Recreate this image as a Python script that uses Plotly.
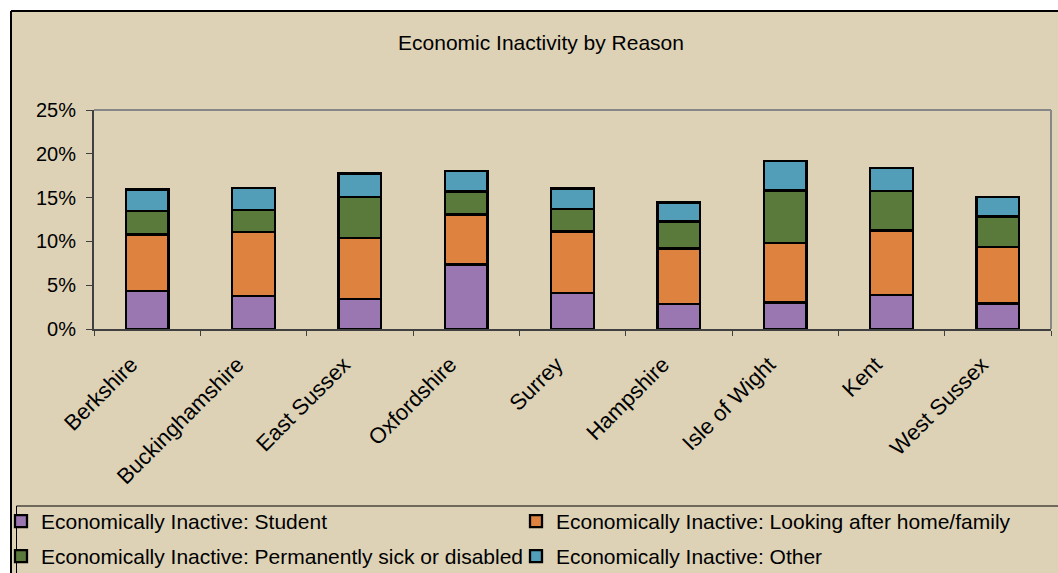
import plotly.graph_objects as go

counties = ["Berkshire", "Buckinghamshire", "East Sussex", "Oxfordshire", "Surrey",
            "Hampshire", "Isle of Wight", "Kent", "West Sussex"]
student = [4.34, 3.77, 3.39, 7.36, 4.12, 2.82, 3.01, 3.85, 2.90]
home = [6.44, 7.28, 7.01, 5.71, 7.01, 6.36, 6.82, 7.39, 6.48]
sick = [2.71, 2.55, 4.69, 2.63, 2.55, 3.09, 5.99, 4.50, 3.46]
other = [2.44, 2.52, 2.67, 2.33, 2.36, 2.17, 3.39, 2.67, 2.21]
series_names = ["Economically Inactive: Student",
                "Economically Inactive: Looking after home/family",
                "Economically Inactive: Permanently sick or disabled",
                "Economically Inactive: Other"]
y_tickvals = [0, 0.05, 0.10, 0.15, 0.20, 0.25]
y_ticktext = ["0%", "5%", "10%", "15%", "20%", "25%"]
title_text = "Economic Inactivity by Reason"

colors = ["#9B77B1", "#DD833F", "#5A7A3B", "#529DB8"]
BG = "#DDD2B6"
FONT = "Liberation Sans, Arial, sans-serif"

W, H = 1058, 573
ML, MR, MT, MB = 94, 7, 110, 244
PW = W - ML - MR
PH = H - MT - MB


def px2x(px):
    return (px - ML) / PW


def px2y(py):
    return (H - MB - py) / PH


fig = go.Figure()
data = [student, home, sick, other]
legend_ids = ["legend", "legend2", "legend3", "legend4"]
for name, vals, col, lg in zip(series_names, data, colors, legend_ids):
    fig.add_trace(go.Bar(
        x=counties, y=[v / 100 for v in vals], name=name,
        marker=dict(color=col, line=dict(color="black", width=2.3)),
        legend=lg, showlegend=True,
    ))

shapes = [
    dict(type="rect", xref="paper", yref="paper", x0=px2x(-5), x1=px2x(1065),
         y0=px2y(-5), y1=px2y(11), fillcolor="white", line=dict(width=0), layer="above"),
    dict(type="rect", xref="paper", yref="paper", x0=px2x(-5), x1=px2x(11),
         y0=px2y(-5), y1=px2y(580), fillcolor="white", line=dict(width=0), layer="above"),
    dict(type="line", xref="paper", yref="paper", x0=px2x(11), x1=px2x(1065),
         y0=px2y(11), y1=px2y(11), line=dict(color="black", width=2), layer="above"),
    dict(type="line", xref="paper", yref="paper", x0=px2x(11), x1=px2x(11),
         y0=px2y(11), y1=px2y(580), line=dict(color="black", width=2), layer="above"),
    dict(type="line", xref="paper", yref="paper", x0=0, x1=1, y0=1, y1=1,
         line=dict(color="#878787", width=2), layer="below"),
    dict(type="line", xref="paper", yref="paper", x0=1, x1=1, y0=0, y1=1,
         line=dict(color="#878787", width=2), layer="below"),
    dict(type="line", xref="paper", yref="paper", x0=px2x(16.5), x1=px2x(1065),
         y0=px2y(506), y1=px2y(506), line=dict(color="black", width=1), layer="above"),
    dict(type="line", xref="paper", yref="paper", x0=px2x(16.5), x1=px2x(16.5),
         y0=px2y(506), y1=px2y(580), line=dict(color="black", width=1), layer="above"),
]

legend_common = dict(
    orientation="h", xanchor="left", yanchor="top",
    xref="container", yref="container",
    bgcolor="rgba(0,0,0,0)", borderwidth=0,
    font=dict(family=FONT, size=21, color="black"),
    itemwidth=30, visible=True,
)
# legend positions (left x px, top y px)
leg_pos = [(1, 501), (516, 501), (1, 536), (516, 536)]
legend_layouts = {}
for lg, (lx, ly) in zip(legend_ids, leg_pos):
    legend_layouts[lg] = dict(legend_common, x=lx / W, y=1 - ly / H)

fig.update_layout(
    width=W, height=H,
    showlegend=True,
    margin=dict(l=ML, r=MR, t=MT, b=MB, autoexpand=False),
    paper_bgcolor=BG, plot_bgcolor=BG,
    barmode="stack", bargap=0.6,
    font=dict(family=FONT, color="black", size=20),
    title=dict(text=title_text, x=541 / W, xref="container", xanchor="center",
               y=1 - 43 / H, yanchor="middle", yref="container",
               font=dict(family=FONT, size=21, color="black")),
    xaxis=dict(
        type="category", tickangle=-45, tickson="boundaries",
        ticks="outside", ticklen=5, tickcolor="#404040", tickwidth=1,
        showline=True, linecolor="#404040", linewidth=2,
        showgrid=False, zeroline=False, automargin=False,
        ticklabelstandoff=12, ticklabelshift=-16,
        tickfont=dict(family=FONT, size=22, color="black"),
    ),
    yaxis=dict(
        range=[0, 0.25], tickvals=y_tickvals, ticktext=y_ticktext,
        ticks="outside", ticklen=6, tickcolor="#404040", tickwidth=1,
        showline=True, linecolor="#404040", linewidth=2,
        showgrid=False, zeroline=False, automargin=False,
        ticklabelstandoff=6,
        tickfont=dict(family=FONT, size=20, color="black"),
    ),
    shapes=shapes,
    **legend_layouts,
)

fig.write_html("out.html")
